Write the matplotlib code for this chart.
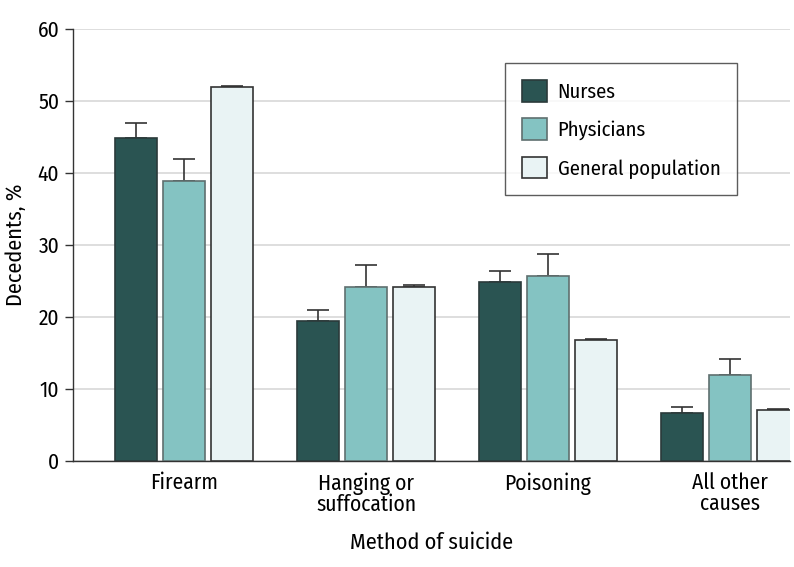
import matplotlib
matplotlib.use("Agg")
import matplotlib.pyplot as plt
import numpy as np

categories = ["Firearm", "Hanging or\nsuffocation", "Poisoning", "All other\ncauses"]
series_names = ["Nurses", "Physicians", "General population"]
nurses = [44.9, 19.4, 24.9, 6.6]
nurses_upper = [47.0, 20.9, 26.4, 7.5]
physicians = [38.9, 24.1, 25.7, 11.9]
physicians_upper = [42.0, 27.2, 28.7, 14.2]
general = [51.9, 24.1, 16.8, 7.1]
general_upper = [52.1, 24.5, 16.9, 7.15]
yticks = [0, 10, 20, 30, 40, 50, 60]

plt.rcParams['font.family'] = ['Fira Sans Condensed', 'DejaVu Sans']

fig = plt.figure(figsize=(7.94, 5.67), dpi=100)
ax = fig.add_axes([0.092, 0.187, 0.903, 0.762])

colors = ["#2a5452", "#84c3c2", "#e9f3f4"]
edges = ["#2a3a3a", "#5f6f6f", "#333333"]
vals = [nurses, physicians, general]
uppers = [nurses_upper, physicians_upper, general_upper]
x = np.arange(len(categories))
offs = [-0.262, 0.0, 0.262]
w = 0.232
for i in range(3):
    v = np.array(vals[i]); u = np.array(uppers[i])
    ax.bar(x + offs[i], v, width=w, color=colors[i], edgecolor=edges[i],
           linewidth=1.2, label=series_names[i], zorder=3)
    ax.errorbar(x + offs[i], v, yerr=[np.zeros_like(v), u - v], fmt='none',
                ecolor="#333333", elinewidth=1.2, capsize=8, capthick=1.2, zorder=2)

fs = 15.5
ax.set_xlim(-0.61, 3.33)
ax.set_ylim(0, 60)
ax.set_yticks(yticks)
ax.set_xticks(x)
ax.set_xticklabels(categories, fontsize=fs, va='top', linespacing=1.0)
ax.tick_params(axis='x', length=0, pad=8)
ax.tick_params(axis='y', labelsize=fs, length=6, width=1, color="#333333", pad=4)
ax.yaxis.grid(True, color="#d8d8d8", linewidth=1.2, zorder=0)
ax.set_axisbelow(True)
for s in ["top", "right"]:
    ax.spines[s].set_visible(False)
for s in ["left", "bottom"]:
    ax.spines[s].set_color("#333333")
    ax.spines[s].set_linewidth(1)
ax.set_ylabel("Decedents, %", fontsize=16, labelpad=8)
ax.set_xlabel("Method of suicide", fontsize=16, labelpad=12)

leg = ax.legend(loc="upper right", bbox_to_anchor=(0.926, 0.92), fontsize=14.8,
                frameon=True, fancybox=False, edgecolor="#333333",
                handlelength=1.25, handleheight=1.25, handletextpad=0.5,
                labelspacing=0.8, borderpad=0.8, borderaxespad=0)
leg.get_frame().set_linewidth(1)

fig.savefig("out.png", dpi=100)
